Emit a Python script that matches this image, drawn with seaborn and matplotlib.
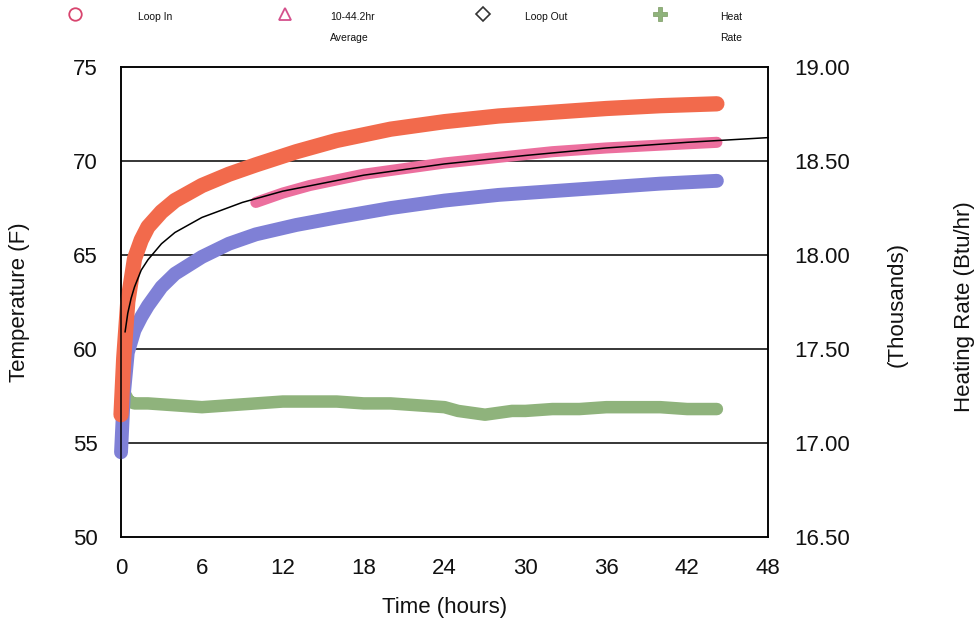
import pandas as pd
import matplotlib.pyplot as plt
import seaborn as sns
from matplotlib.lines import Line2D

# Loop In temperature (F)
loop_in_t = [0, 0.2, 0.5, 1, 1.5, 2, 3, 4, 6, 8, 10, 13, 16, 20, 24, 28, 32, 36, 40, 44.2]
loop_in = [56.5, 59.5, 62.5, 64.8, 65.8, 66.5, 67.3, 67.9, 68.7, 69.3, 69.8, 70.5, 71.1, 71.7,
           72.1, 72.4, 72.6, 72.8, 72.95, 73.05]

# Loop Out temperature (F)
loop_out_t = [0, 0.2, 0.5, 1, 1.5, 2, 3, 4, 6, 8, 10, 13, 16, 20, 24, 28, 32, 36, 40, 44.2]
loop_out = [54.5, 57.5, 59.8, 61.0, 61.7, 62.3, 63.3, 64.0, 64.9, 65.6, 66.1, 66.6, 67.0, 67.5,
            67.9, 68.2, 68.4, 68.6, 68.8, 68.95]

# 10-44.2hr average
avg_t = [10, 12, 14, 16, 18, 20, 24, 28, 32, 36, 40, 44.2]
avg = [67.8, 68.3, 68.7, 69.0, 69.3, 69.5, 69.9, 70.2, 70.5, 70.7, 70.85, 71.0]

# fitted trend line
fit_t = [0.3, 0.5, 0.75, 1, 1.5, 2, 3, 4, 6, 9, 12, 18, 24, 30, 36, 42, 48]
fit = [60.9, 61.9, 62.7, 63.3, 64.2, 64.75, 65.6, 66.2, 67.0, 67.8, 68.4, 69.25, 69.85, 70.3,
       70.7, 71.0, 71.25]

# heat rate (thousands Btu/hr)
heat_t = [0, 0.1, 0.3, 0.6, 1, 2, 4, 6, 8, 10, 12, 14, 16, 18, 20, 22, 24, 25, 26, 27, 28, 29,
          30, 32, 34, 36, 38, 40, 42, 44.2]
heat = [17.22, 17.30, 17.26, 17.22, 17.21, 17.21, 17.20, 17.19, 17.20, 17.21, 17.22, 17.22,
        17.22, 17.21, 17.21, 17.20, 17.19, 17.17, 17.16, 17.15, 17.16, 17.17, 17.17, 17.18,
        17.18, 17.19, 17.19, 17.19, 17.18, 17.18]

x_ticks = [0, 6, 12, 18, 24, 30, 36, 42, 48]

sns.set_style("white")
plt.rcParams['font.family'] = ['Liberation Sans', 'DejaVu Sans']
plt.rcParams.update({'text.color': '#111111', 'axes.labelcolor': '#111111',
                     'xtick.color': '#111111', 'ytick.color': '#111111'})

fig = plt.figure(figsize=(9.76, 6.22), dpi=100)
ax = fig.add_axes([0.124, 0.137, 0.663, 0.755])
ax2 = ax.twinx()

red = "#f26a4c"
pink = "#ec6f9e"
blue = "#7f80d6"
green = "#8fb37c"

kw = dict(estimator=None, sort=False, legend=False)
sns.lineplot(x=heat_t, y=heat, ax=ax2, color=green, lw=9, solid_capstyle="round", **kw)
sns.lineplot(x=loop_out_t, y=loop_out, ax=ax, color=blue, lw=10, solid_capstyle="round", **kw)
sns.lineplot(x=loop_in_t, y=loop_in, ax=ax, color=red, lw=11, solid_capstyle="round", **kw)
sns.lineplot(x=avg_t, y=avg, ax=ax, color=pink, lw=8, solid_capstyle="round", **kw)
sns.lineplot(x=fit_t, y=fit, ax=ax, color="black", lw=1.1, **kw)

ax.set_zorder(2)
ax.patch.set_visible(False)
for l in ax.lines + ax2.lines:
    l.set_clip_on(False)

ax.set_xlim(0, 48)
ax.set_ylim(50, 75)
ax2.set_ylim(16.5, 19.0)
ax.set_xticks(x_ticks)
ax.set_yticks([50, 55, 60, 65, 70, 75])
ax2.set_yticks([16.5, 17.0, 17.5, 18.0, 18.5, 19.0])
ax2.set_yticklabels([f"{v:.2f}" for v in ax2.get_yticks()])

for y in [55, 60, 65, 70]:
    ax.axhline(y, color="black", lw=1.1, zorder=0)

ax.tick_params(axis="x", direction="in", length=8, width=1.2, color="black", labelsize=16, pad=15)
ax.tick_params(axis="y", length=0, labelsize=16, pad=17)
ax2.tick_params(axis="y", length=0, labelsize=16, pad=19)

for a in (ax, ax2):
    for s in a.spines.values():
        s.set_color("black")
        s.set_linewidth(1.1)

ax.set_xlabel("Time (hours)", fontsize=16)
ax.xaxis.set_label_coords(0.5, -0.128)
ax.set_ylabel("Temperature (F)", fontsize=16)
ax.yaxis.set_label_coords(-0.141, 0.5)
ax2.set_ylabel("Heating Rate (Btu/hr)", fontsize=16)
ax2.yaxis.set_label_coords(1.287, 0.49)
fig.text(0.919, 0.511, "(Thousands)", rotation=90, ha="center", va="center", fontsize=16)

# legend row across the top
entries = [
    (75, 138, "Loop In", dict(marker="o", mfc="none", mec="#d8446e", ms=9, mew=1.3)),
    (285, 330, "10-44.2hr\nAverage", dict(marker="^", mfc="none", mec="#d4508c", ms=9, mew=1.3)),
    (483, 525, "Loop Out", dict(marker="D", mfc="none", mec="#333333", ms=7, mew=1.2)),
    (660, 720, "Heat\nRate", dict(marker="P", mfc=green, mec="#7a9a60", ms=10, mew=0.5)),
]
for xm, xt, label, mk in entries:
    fig.add_artist(Line2D([xm / 976], [1 - 14 / 622], transform=fig.transFigure,
                          ls="none", **mk))
    fig.text(xt / 976, 1 - 12 / 622, label, ha="left", va="top", fontsize=7.5,
             linespacing=2.4)

fig.savefig("out.png", dpi=100)
